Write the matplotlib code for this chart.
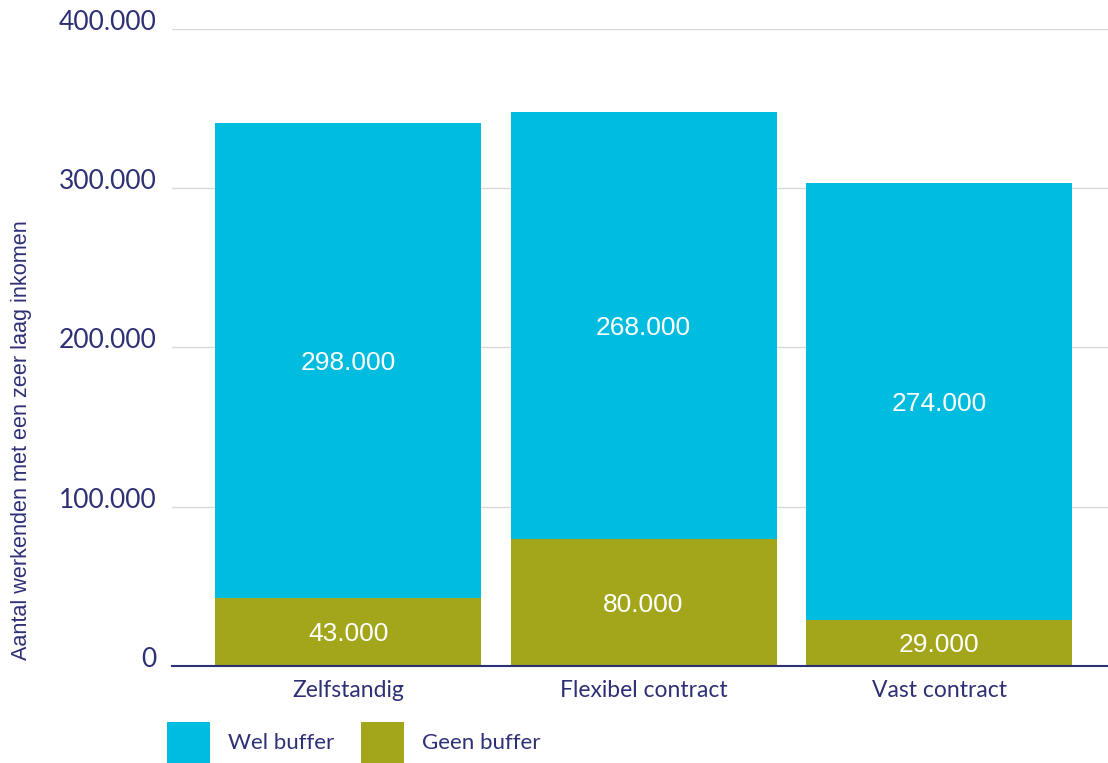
import matplotlib
matplotlib.use("Agg")
import matplotlib.pyplot as plt
import matplotlib.transforms as mtransforms
from matplotlib.patches import Patch
from matplotlib.ticker import FuncFormatter

# ---------------------------------------------------------------------
# Data
# ---------------------------------------------------------------------
categories = ["Zelfstandig", "Flexibel contract", "Vast contract"]
geen_buffer = [43000, 80000, 29000]
wel_buffer = [298000, 268000, 274000]
series_names = ["Wel buffer", "Geen buffer"]
y_ticks = [0, 100000, 200000, 300000, 400000]

CYAN = "#00BCDF"
OLIVE = "#A3A51B"
NAVY = "#2E3075"
GRID = "#D9D9D9"


def dutch_thousands(v, _pos=None):
    return f"{int(v):,}".replace(",", ".")


# ---------------------------------------------------------------------
# Figure
# ---------------------------------------------------------------------
fig = plt.figure(figsize=(11.08, 7.63), dpi=100)
ax = fig.add_axes([172 / 1108, 97 / 763, 936 / 1108, 637 / 763])

x = list(range(len(categories)))
bars_geen = ax.bar(x, geen_buffer, width=0.9, color=OLIVE, zorder=2)
bars_wel = ax.bar(x, wel_buffer, width=0.9, bottom=geen_buffer, color=CYAN, zorder=2)

for bars, vals in [(bars_geen, geen_buffer), (bars_wel, wel_buffer)]:
    for rect, val in zip(bars, vals):
        ax.text(rect.get_x() + rect.get_width() / 2, rect.get_y() + val / 2,
                dutch_thousands(val), ha="center", va="center_baseline",
                color="white", fontsize=19, family="Liberation Sans", zorder=3)

ax.set_xlim(-0.596, 2.572)
ax.set_ylim(0, 400000)
ax.set_yticks(y_ticks)
ax.yaxis.set_major_formatter(FuncFormatter(dutch_thousands))
ax.set_xticks(x)
ax.set_xticklabels(categories)

ax.grid(axis="y", color=GRID, linewidth=1, zorder=0)
ax.set_axisbelow(True)
for side in ["top", "right", "left"]:
    ax.spines[side].set_visible(False)
ax.spines["bottom"].set_color(NAVY)
ax.spines["bottom"].set_linewidth(1.5)
ax.spines["bottom"].set_zorder(4)

ax.tick_params(axis="y", length=0, pad=11, labelsize=19, labelcolor=NAVY)
ax.tick_params(axis="x", length=0, pad=10, labelsize=16.5, labelcolor=NAVY)
for lbl in ax.get_yticklabels():
    lbl.set_family("Lato")
    lbl.set_transform(lbl.get_transform() +
                      mtransforms.ScaledTranslation(0, 9 / 100, fig.dpi_scale_trans))
for lbl in ax.get_xticklabels():
    lbl.set_family("Lato")

fig.text(22 / 1108, 1 - 440 / 763, "Aantal werkenden met een zeer laag inkomen",
         rotation=90, ha="center", va="center", color=NAVY, fontsize=15.6,
         family="Liberation Sans")

handles = [Patch(facecolor=CYAN), Patch(facecolor=OLIVE)]
fig.legend(handles, series_names, loc="lower left",
           bbox_to_anchor=(167 / 1108, 0), ncol=2, frameon=False,
           borderaxespad=0, borderpad=0, handlelength=1.94, handleheight=2.46,
           handletextpad=0.8, columnspacing=1.2,
           prop={"family": "Lato", "size": 16}, labelcolor=NAVY)

fig.savefig("out.png", dpi=100)
